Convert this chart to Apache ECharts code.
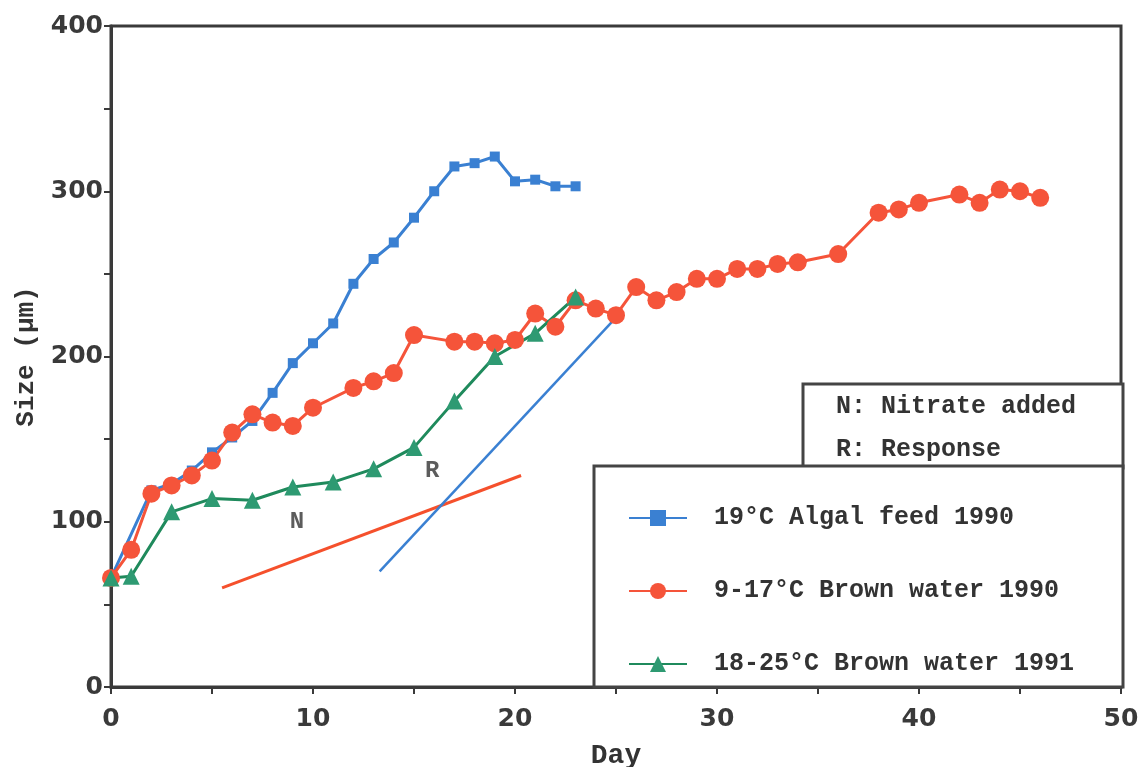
<!DOCTYPE html>
<html>
<head>
<meta charset="utf-8">
<script src="https://cdn.jsdelivr.net/npm/echarts@6/dist/echarts.min.js"></script>
<style>
  html, body { margin: 0; padding: 0; background: #fff; }
  #main { width: 1143px; height: 767px; }
</style>
</head>
<body>
<div id="main"></div>
<script>
// 19°C Algal feed 1990
var algalDays  = [0, 2, 3, 4, 5, 6, 7, 8, 9, 10, 11, 12, 13, 14, 15, 16, 17, 18, 19, 20, 21, 22, 23];
var algalSize  = [66, 119, 123, 131, 142, 151, 161, 178, 196, 208, 220, 244, 259, 269, 284, 300, 315, 317, 321, 306, 307, 303, 303];

// 9-17°C Brown water 1990
var brown90Days = [0, 1, 2, 3, 4, 5, 6, 7, 8, 9, 10, 12, 13, 14, 15, 17, 18, 19, 20, 21, 22, 23, 24, 25, 26, 27, 28, 29, 30, 31, 32, 33, 34, 36, 38, 39, 40, 42, 43, 44, 45, 46];
var brown90Size = [66, 83, 117, 122, 128, 137, 154, 165, 160, 158, 169, 181, 185, 190, 213, 209, 209, 208, 210, 226, 218, 234, 229, 225, 242, 234, 239, 247, 247, 253, 253, 256, 257, 262, 287, 289, 293, 298, 293, 301, 300, 296];

// 18-25°C Brown water 1991
var brown91Days = [0, 1, 3, 5, 7, 9, 11, 13, 15, 17, 19, 21, 23];
var brown91Size = [66, 67, 106, 114, 113, 121, 124, 132, 145, 173, 200, 214, 236];

// straight guide lines
var redGuide  = [[5.5, 60], [20.3, 128]];
var blueGuide = [[13.3, 70], [24.8, 221]];

// N / R notes
var notes = [[9.2, 100, 'N'], [15.9, 131, 'R']];

var seriesNames = ['19°C Algal feed 1990', '9-17°C Brown water 1990', '18-25°C Brown water 1991'];

function pairs(xs, ys) {
    var out = [];
    for (var i = 0; i < xs.length; i++) out.push([xs[i], ys[i]]);
    return out;
}

var monoFont = '"Liberation Mono", "DejaVu Sans Mono", monospace';
var axisColor = '#3a3a3a';

var option = {
    animation: false,
    backgroundColor: '#fff',
    grid: {
        left: 111, right: 22, top: 26, bottom: 80,
        outerBoundsMode: 'none', containLabel: false,
        show: true, borderColor: axisColor, borderWidth: 3
    },
    legend: {
        data: seriesNames,
        orient: 'vertical',
        left: 623, top: 500,
        itemWidth: 58, itemHeight: 20, itemGap: 47,
        textStyle: {
            fontFamily: monoFont, fontWeight: 'bold', fontSize: 25,
            color: '#333', lineHeight: 26, padding: [0, 0, 0, 22]
        }
    },
    xAxis: {
        type: 'value', min: 0, max: 50, interval: 5,
        name: 'Day', nameLocation: 'middle', nameGap: 55,
        nameTextStyle: { fontFamily: monoFont, fontWeight: 'bold', fontSize: 28, color: '#333' },
        axisLine: { lineStyle: { color: axisColor, width: 3 } },
        axisTick: { length: 7, lineStyle: { color: axisColor, width: 2 } },
        axisLabel: {
            fontFamily: '"DejaVu Sans"', fontWeight: 'bold', fontSize: 25, color: '#3a3a3a', margin: 20,
            formatter: function (v) { return v % 10 === 0 ? v : ''; }
        },
        splitLine: { show: false }
    },
    yAxis: {
        type: 'value', min: 0, max: 400, interval: 50,
        name: 'Size (µm)', nameLocation: 'middle', nameRotate: 90, nameGap: 70,
        nameTextStyle: { fontFamily: monoFont, fontWeight: 'bold', fontSize: 26, color: '#333' },
        axisLine: { lineStyle: { color: axisColor, width: 3 } },
        axisTick: { length: 7, lineStyle: { color: axisColor, width: 2 } },
        axisLabel: {
            fontFamily: '"DejaVu Sans"', fontWeight: 'bold', fontSize: 25, color: '#3a3a3a', margin: 8,
            formatter: function (v) { return v % 100 === 0 ? v : ''; }
        },
        splitLine: { show: false }
    },
    graphic: [
        {
            type: 'rect', z: 3,
            shape: { x: 803, y: 384, width: 320, height: 84 },
            style: { fill: '#fff', stroke: '#444', lineWidth: 3 }
        },
        {
            type: 'rect', z: 3,
            shape: { x: 594, y: 466, width: 529, height: 221 },
            style: { fill: '#fff', stroke: '#444', lineWidth: 3 }
        },
        {
            type: 'text', z: 5, left: 836, top: 394,
            style: { text: 'N: Nitrate added', fontFamily: monoFont, fontWeight: 'bold', fontSize: 25, fill: '#333' }
        },
        {
            type: 'text', z: 5, left: 836, top: 437,
            style: { text: 'R: Response', fontFamily: monoFont, fontWeight: 'bold', fontSize: 25, fill: '#333' }
        }
    ],
    series: [
        {
            name: seriesNames[0], type: 'line', data: pairs(algalDays, algalSize),
            symbol: 'rect', symbolSize: 10,
            lineStyle: { color: '#3a80d2', width: 3 },
            itemStyle: { color: '#3a80d2' }
        },
        {
            name: seriesNames[1], type: 'line', data: pairs(brown90Days, brown90Size),
            symbol: 'circle', symbolSize: 18,
            lineStyle: { color: '#f5543a', width: 3 },
            itemStyle: { color: '#f5543a' }
        },
        {
            name: seriesNames[2], type: 'line', data: pairs(brown91Days, brown91Size),
            symbol: 'triangle', symbolSize: 17,
            lineStyle: { color: '#1f8a5c', width: 3 },
            itemStyle: { color: '#2e9a72' }
        },
        {
            type: 'line', data: redGuide, symbol: 'none',
            lineStyle: { color: '#f5502c', width: 3 }, silent: true
        },
        {
            type: 'line', data: blueGuide, symbol: 'none',
            lineStyle: { color: '#3a80d2', width: 2.5 }, silent: true
        },
        {
            type: 'scatter', data: notes, symbolSize: 0, silent: true,
            label: {
                show: true, position: 'inside',
                formatter: function (p) { return p.data[2]; },
                fontFamily: monoFont, fontWeight: 'bold', fontSize: 24, color: '#333'
            }
        }
    ]
};

var chart = echarts.init(document.getElementById('main'));
chart.setOption(option);
</script>
</body>
</html>
